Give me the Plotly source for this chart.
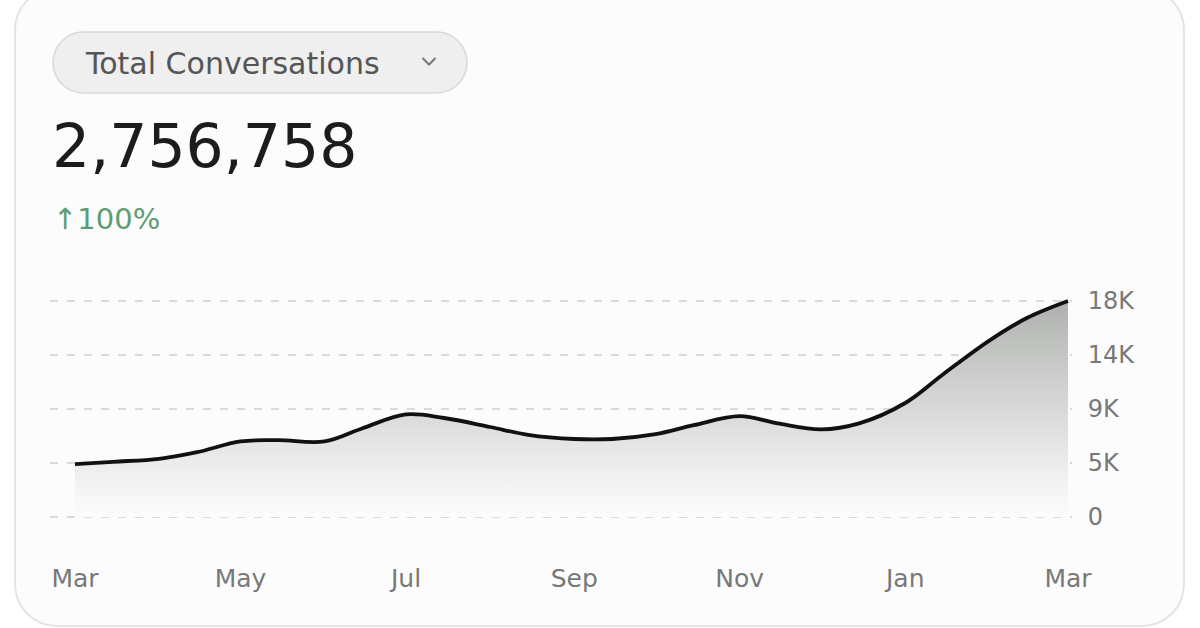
import plotly.graph_objects as go
from datetime import datetime, timedelta

# ---- data ----
dates = ["2023-03-01", "2023-03-15", "2023-04-01", "2023-04-15", "2023-05-01", "2023-05-15",
         "2023-06-01", "2023-06-15", "2023-07-01", "2023-07-15", "2023-08-01", "2023-08-15",
         "2023-09-01", "2023-09-15", "2023-10-01", "2023-10-15", "2023-11-01", "2023-11-15",
         "2023-12-01", "2023-12-15", "2024-01-01", "2024-01-15", "2024-02-01", "2024-02-15",
         "2024-03-01"]
conversations = [4400, 4600, 4850, 5400, 6300, 6400,
                 6300, 7400, 8550, 8250, 7500, 6850,
                 6500, 6500, 6900, 7650, 8400, 7800,
                 7300, 7800, 9500, 11900, 14700, 16600,
                 18000]
y_tickvals = [0, 4500, 9000, 13500, 18000]
y_ticktext = ["0", "5K", "9K", "14K", "18K"]
metric_name = "Total Conversations"
total_value = "2,756,758"
change_text = "↑100%"

W, H = 1200, 628


def px(x):
    return x / W


def py(y):
    return 1 - y / H


def rounded_rect(x0, y0, x1, y1, r):
    k = 0.5523 * r
    pts = [
        ("M", [(x0 + r, y0)]),
        ("L", [(x1 - r, y0)]),
        ("C", [(x1 - r + k, y0), (x1, y0 + r - k), (x1, y0 + r)]),
        ("L", [(x1, y1 - r)]),
        ("C", [(x1, y1 - r + k), (x1 - r + k, y1), (x1 - r, y1)]),
        ("L", [(x0 + r, y1)]),
        ("C", [(x0 + r - k, y1), (x0, y1 - r + k), (x0, y1 - r)]),
        ("L", [(x0, y0 + r)]),
        ("C", [(x0, y0 + r - k), (x0 + r - k, y0), (x0 + r, y0)]),
    ]
    s = ""
    for cmd, ps in pts:
        s += cmd + " " + " ".join(f"{px(a):.5f},{py(b):.5f}" for a, b in ps) + " "
    return s + "Z"


def polyline(points):
    return "M " + " L ".join(f"{px(a):.5f},{py(b):.5f}" for a, b in points)


fig = go.Figure()
fig.add_trace(go.Scatter(
    x=dates, y=conversations,
    mode="lines",
    line=dict(color="#111111", width=3.8, shape="spline", smoothing=1),
    fill="tozeroy",
    fillgradient=dict(type="vertical", start=0, stop=18000,
                      colorscale=[[0, "rgba(252,252,252,1)"], [0.1, "#f6f6f6"],
                                  [0.3, "#e8e8e8"], [0.5, "#d8d8d8"],
                                  [0.75, "#c4c6c4"], [1, "#adb0ad"]]),
    hoverinfo="skip",
    showlegend=False,
))

# plot area: Mar 1 2023 at x=75, Mar 1 2024 at x=1068 ; 0 at y=517, 18000 at y=301
px_per_day = (1068 - 75) / 366.0
left_px, right_px = 50, 1072
d0 = datetime(2023, 3, 1) - timedelta(days=(75 - left_px) / px_per_day)
d1 = datetime(2024, 3, 1) + timedelta(days=(right_px - 1068) / px_per_day)
px_per_unit = (517 - 301) / 18000.0
top_px, bot_px = 296, 519
y0 = -(bot_px - 517) / px_per_unit
y1 = 18000 + (301 - top_px) / px_per_unit

shapes = [
    dict(type="path", path=rounded_rect(15, -12, 1184, 626, 42), xref="paper", yref="paper",
         fillcolor="#fcfcfc", line=dict(color="#e4e4e4", width=2), layer="below"),
    dict(type="path", path=rounded_rect(53, 32, 467, 93, 30.5), xref="paper", yref="paper",
         fillcolor="#efefef", line=dict(color="#d8d8d8", width=1.5), layer="below"),
    dict(type="path", path=polyline([(422.5, 58), (429, 64.5), (435.5, 58)]),
         xref="paper", yref="paper", line=dict(color="#777777", width=2)),
]

annotations = [
    dict(text=metric_name, x=px(83), y=py(63), xref="paper", yref="paper",
         xanchor="left", yanchor="middle", showarrow=False,
         font=dict(family="DejaVu Sans, sans-serif", size=30, color="#555555")),
    dict(text=total_value, x=px(50), y=py(146), xref="paper", yref="paper",
         xanchor="left", yanchor="middle", showarrow=False,
         font=dict(family="DejaVu Sans, sans-serif", size=60, color="#1c1c1c")),
    dict(text=change_text, x=px(51), y=py(219), xref="paper", yref="paper",
         xanchor="left", yanchor="middle", showarrow=False,
         font=dict(family="DejaVu Sans, sans-serif", size=29, color="#5c9e74")),
]

fig.update_layout(
    width=W, height=H,
    margin=dict(l=0, r=0, t=0, b=0, pad=0),
    paper_bgcolor="#ffffff",
    plot_bgcolor="rgba(0,0,0,0)",
    shapes=shapes,
    annotations=annotations,
    xaxis=dict(
        type="date",
        automargin=False,
        domain=[px(left_px), px(right_px)],
        range=[d0.strftime("%Y-%m-%d %H:%M"), d1.strftime("%Y-%m-%d %H:%M")],
        tickformat="%b", dtick="M2", tick0="2023-03-01",
        showgrid=False, zeroline=False, showline=False,
        ticks="outside", ticklen=37, tickcolor="rgba(0,0,0,0)",
        tickfont=dict(family="DejaVu Sans, sans-serif", size=25, color="#787878"),
        fixedrange=True,
    ),
    yaxis=dict(
        side="right",
        automargin=False,
        domain=[py(bot_px), py(top_px)],
        range=[y0, y1],
        tickvals=y_tickvals, ticktext=y_ticktext,
        showgrid=True, gridcolor="#dadada", gridwidth=1.5, griddash="8px,9px",
        zeroline=False, showline=False,
        ticks="outside", ticklen=10, tickcolor="rgba(0,0,0,0)",
        tickfont=dict(family="DejaVu Sans, sans-serif", size=24, color="#787878"),
        fixedrange=True,
    ),
)

post = ("document.documentElement.style.margin='0';document.documentElement.style.overflow='hidden';"
        "document.body.style.margin='0';document.body.style.overflow='hidden';")
fig.write_html("out.html", config={"displayModeBar": False}, post_script=post)
